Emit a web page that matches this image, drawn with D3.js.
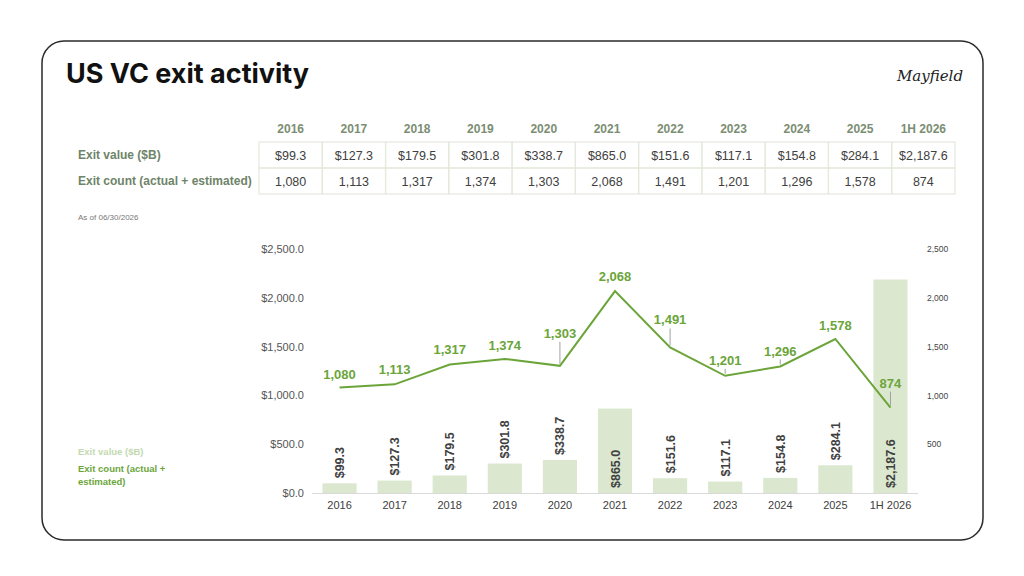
<!DOCTYPE html>
<html>
<head>
<meta charset="utf-8">
<script src="https://cdn.jsdelivr.net/npm/d3@7"></script>
<style>
  html, body { margin: 0; padding: 0; background: #ffffff; }
  svg { display: block; }
</style>
</head>
<body>
<div id="rootDiv"></div>
<script>
// Data
const categories = ["2016", "2017", "2018", "2019", "2020", "2021", "2022", "2023", "2024", "2025", "1H 2026"];
const exitValue = [99.3, 127.3, 179.5, 301.8, 338.7, 865.0, 151.6, 117.1, 154.8, 284.1, 2187.6];
const exitCount = [1080, 1113, 1317, 1374, 1303, 2068, 1491, 1201, 1296, 1578, 874];
const leftTicks = [0, 500, 1000, 1500, 2000, 2500];
const rightTicks = [500, 1000, 1500, 2000, 2500];
const rowLabels = ["Exit value ($B)", "Exit count (actual + estimated)"];

// label layout: px from point to label baseline, and which labels get a leader line
const countLabelLift = [9, 10, 10, 9, 28, 10, 23, 11, 11, 9, 20];
const countLeader = [false, false, false, false, true, false, true, true, true, false, true];
const barLabelInside = [false, false, false, false, false, true, false, false, false, false, true];

const colors = {
    line: "#6ba53a",
    bar: "#dbe8cf",
    legendBar: "#c3dab1",
    tableHead: "#7b8e73",
    rowLabel: "#6e8468",
    cellBorder: "#e4e9dc",
    text: "#404040",
    axis: "#555555"
}

const W = 1024, H = 576;
const svg = d3.select("#rootDiv").append("svg")
    .attr("width", W)
    .attr("height", H)
    .style("font-family", "'Liberation Sans', Arial, sans-serif")

// card
svg.append("rect")
    .attr("x", 42).attr("y", 41)
    .attr("width", 941).attr("height", 499)
    .attr("rx", 22)
    .attr("fill", "#fff")
    .attr("stroke", "#2a2a2a")
    .attr("stroke-width", 1.5)

svg.append("text")
    .attr("x", 66).attr("y", 83)
    .attr("font-family", "Inter, 'Liberation Sans', sans-serif")
    .attr("font-weight", 700)
    .attr("font-size", 27)
    .attr("fill", "#111")
    .text("US VC exit activity")

svg.append("text")
    .attr("x", 963).attr("y", 81)
    .attr("text-anchor", "end")
    .attr("font-family", "'DejaVu Serif', serif")
    .attr("font-style", "italic")
    .attr("font-size", 15)
    .attr("fill", "#222")
    .text("Mayfield")

// Table
const tx = d3.scaleBand().domain(categories).range([259, 955])
const rowTop = [142, 168]
const rowH = 26
const fmtCount = d3.format(",")
const fmtValue = v => "$" + d3.format(",.1f")(v)

svg.append("g").selectAll("text")
    .data(categories)
    .join("text")
    .attr("x", d => tx(d) + tx.bandwidth() / 2)
    .attr("y", 133)
    .attr("text-anchor", "middle")
    .attr("font-weight", 700)
    .attr("font-size", 12)
    .attr("fill", colors.tableHead)
    .text(d => d)

const rows = [exitValue.map(fmtValue), exitCount.map(fmtCount)]
rows.forEach((vals, r) => {
    svg.append("text")
        .attr("x", 78)
        .attr("y", rowTop[r] + rowH / 2 + 4)
        .attr("font-weight", 700)
        .attr("font-size", 12)
        .attr("fill", colors.rowLabel)
        .text(rowLabels[r])

    const g = svg.append("g")
    g.selectAll("rect")
        .data(categories)
        .join("rect")
        .attr("x", d => tx(d))
        .attr("y", rowTop[r])
        .attr("width", tx.bandwidth())
        .attr("height", rowH)
        .attr("fill", "none")
        .attr("stroke", colors.cellBorder)
        .attr("stroke-width", 1.2)
    g.selectAll("text")
        .data(vals)
        .join("text")
        .attr("x", (d, i) => tx(categories[i]) + tx.bandwidth() / 2)
        .attr("y", rowTop[r] + rowH / 2 + 4.5)
        .attr("text-anchor", "middle")
        .attr("font-size", 12.5)
        .attr("fill", colors.text)
        .text(d => d)
})

svg.append("text")
    .attr("x", 78).attr("y", 220)
    .attr("font-size", 8)
    .attr("fill", "#777")
    .text("As of 06/30/2026")

// Chart
const x = d3.scaleBand().domain(categories).range([312, 918]).paddingInner(0.38).paddingOuter(0.19)
const yL = d3.scaleLinear().domain([0, 2500]).range([493, 249])
const yR = d3.scaleLinear().domain([0, 2500]).range([493, 249])
const cx = d => x(d) + x.bandwidth() / 2

const leftAxis = svg.append("g")
    .attr("transform", "translate(312,0)")
    .call(d3.axisLeft(yL).tickValues(leftTicks).tickSize(0).tickPadding(8).tickFormat(d => "$" + d3.format(",.1f")(d)))
const rightAxis = svg.append("g")
    .attr("transform", "translate(918,0)")
    .call(d3.axisRight(yR).tickValues(rightTicks).tickSize(0).tickPadding(9).tickFormat(d3.format(",")))
const xAxis = svg.append("g")
    .attr("transform", "translate(0,493)")
    .call(d3.axisBottom(x).tickSize(0).tickPadding(8))

for (const axis of [leftAxis, rightAxis, xAxis]) {
    axis.select(".domain").remove()
    axis.selectAll("text").attr("font-family", "'Liberation Sans', Arial, sans-serif").attr("fill", colors.axis)
}
leftAxis.selectAll("text").attr("font-size", 11)
rightAxis.selectAll("text").attr("font-size", 8.5).attr("fill", "#444")
xAxis.selectAll("text").attr("font-size", 11).attr("fill", colors.text)

// bars
svg.append("g").selectAll("rect")
    .data(exitValue)
    .join("rect")
    .attr("x", (d, i) => x(categories[i]))
    .attr("y", d => yL(d))
    .attr("width", x.bandwidth())
    .attr("height", d => yL(0) - yL(d))
    .attr("fill", colors.bar)

svg.append("line")
    .attr("x1", 312).attr("x2", 918)
    .attr("y1", 493.5).attr("y2", 493.5)
    .attr("stroke", "#d9d9d9")
    .attr("stroke-width", 1)

svg.append("g").selectAll("text")
    .data(exitValue)
    .join("text")
    .attr("transform", (d, i) => {
        const yy = barLabelInside[i] ? yL(0) - 5 : yL(d) - 5
        return `translate(${cx(categories[i])},${yy}) rotate(-90)`
    })
    .attr("dy", "0.36em")
    .attr("font-weight", 700)
    .attr("font-size", 12.5)
    .attr("fill", colors.text)
    .text(d => fmtValue(d))

// line
const line = d3.line()
    .x((d, i) => cx(categories[i]))
    .y(d => yR(d))

svg.append("path")
    .datum(exitCount)
    .attr("d", line)
    .attr("fill", "none")
    .attr("stroke", colors.line)
    .attr("stroke-width", 2)

const leaders = exitCount.map((d, i) => ({ d, i })).filter(o => countLeader[o.i])
svg.append("g").selectAll("line")
    .data(leaders)
    .join("line")
    .attr("x1", o => cx(categories[o.i]))
    .attr("x2", o => cx(categories[o.i]))
    .attr("y1", o => yR(o.d) - 2)
    .attr("y2", o => yR(o.d) - countLabelLift[o.i] + 4)
    .attr("stroke", "#a0a0a0")
    .attr("stroke-width", 1)

svg.append("g").selectAll("text")
    .data(exitCount)
    .join("text")
    .attr("x", (d, i) => cx(categories[i]))
    .attr("y", (d, i) => yR(d) - countLabelLift[i])
    .attr("text-anchor", "middle")
    .attr("font-weight", 700)
    .attr("font-size", 13)
    .attr("fill", colors.line)
    .text(d => fmtCount(d))

// legend
svg.append("text")
    .attr("x", 78).attr("y", 455)
    .attr("font-weight", 700).attr("font-size", 9.5)
    .attr("fill", colors.legendBar)
    .text("Exit value ($B)")
const lg = svg.append("text")
    .attr("x", 78).attr("y", 472)
    .attr("font-weight", 700).attr("font-size", 9.5)
    .attr("fill", colors.line)
lg.append("tspan").attr("x", 78).text("Exit count (actual +")
lg.append("tspan").attr("x", 78).attr("dy", 13).text("estimated)")
</script>
</body>
</html>
